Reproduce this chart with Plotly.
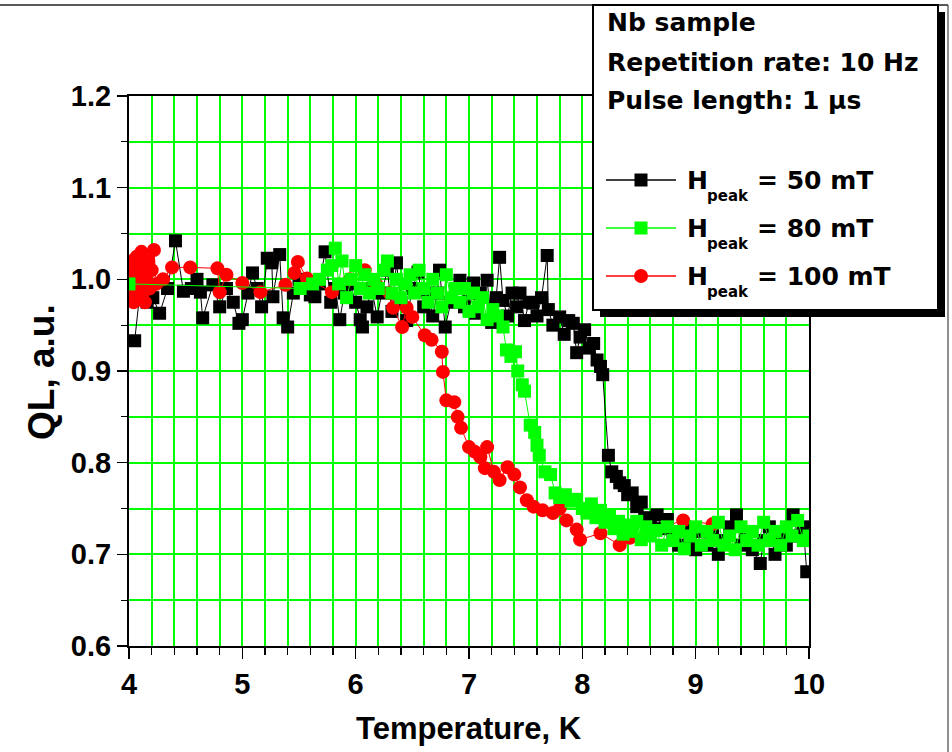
import plotly.graph_objects as go

# ---------------- data ----------------
t_50 = [4.05, 4.10, 4.16, 4.21, 4.27, 4.34, 4.41, 4.48, 4.55, 4.60, 4.63, 4.65, 4.74, 4.80, 4.86,
        4.92, 4.97, 5.00, 5.05, 5.09, 5.13, 5.17, 5.22, 5.26, 5.27, 5.33, 5.36, 5.40, 5.45, 5.50,
        5.55, 5.60, 5.64, 5.68, 5.73, 5.78, 5.82, 5.86, 5.90, 5.95, 6.00, 6.04, 6.06, 6.10, 6.14,
        6.19, 6.23, 6.28, 6.32, 6.36, 6.40, 6.45, 6.50, 6.55, 6.60, 6.64, 6.68, 6.72, 6.74, 6.79,
        6.84, 6.88, 6.92, 6.96, 7.00, 7.04, 7.06, 7.10, 7.16, 7.20, 7.24, 7.27, 7.30, 7.34, 7.38,
        7.42, 7.45, 7.49, 7.53, 7.56, 7.60, 7.64, 7.69, 7.70, 7.74, 7.80, 7.84, 7.88, 7.92, 7.95,
        7.98, 8.02, 8.06, 8.10, 8.13, 8.16, 8.18, 8.23, 8.26, 8.30, 8.33, 8.37, 8.40, 8.44, 8.48,
        8.52, 8.55, 8.60, 8.66, 8.70, 8.75, 8.80, 8.85, 8.90, 8.95, 9.00, 9.05, 9.10, 9.15, 9.20,
        9.25, 9.30, 9.36, 9.40, 9.45, 9.50, 9.57, 9.60, 9.65, 9.70, 9.75, 9.80, 9.86, 9.90, 9.95,
        9.98]
ql_50 = [0.933, 0.990, 0.975, 0.980, 0.963, 0.990, 1.042, 0.987, 0.990, 1.000, 0.986, 0.958, 0.994, 0.970, 0.990,
         0.975, 0.952, 0.956, 0.985, 1.007, 0.990, 0.970, 1.023, 1.018, 0.981, 1.027, 0.958, 0.948, 0.985, 1.000,
         0.995, 0.983, 0.981, 0.995, 1.030, 0.975, 0.990, 0.956, 0.985, 0.995, 0.975, 0.956, 0.948, 0.970, 0.990,
         0.959, 0.985, 1.010, 0.965, 1.018, 0.975, 0.955, 0.990, 1.008, 0.970, 0.985, 0.960, 0.985, 1.010, 0.948,
         0.975, 0.990, 0.999, 0.970, 0.985, 0.996, 0.963, 0.985, 0.999, 0.953, 0.980, 1.024, 0.977, 0.960, 0.985,
         0.970, 0.985, 0.955, 0.975, 0.974, 0.960, 0.980, 1.026, 0.967, 0.950, 0.959, 0.940, 0.955, 0.952, 0.920,
         0.937, 0.945, 0.925, 0.930, 0.912, 0.905, 0.896, 0.808, 0.790, 0.785, 0.778, 0.775, 0.765, 0.767, 0.752,
         0.757, 0.740, 0.735, 0.743, 0.728, 0.738, 0.720, 0.710, 0.730, 0.715, 0.705, 0.725, 0.710, 0.720, 0.700,
         0.715, 0.730, 0.743, 0.710, 0.720, 0.705, 0.690, 0.715, 0.730, 0.700, 0.720, 0.710, 0.743, 0.720, 0.730,
         0.681]

t_80 = [4.00, 5.51, 5.62, 5.68, 5.75, 5.79, 5.82, 5.85, 5.88, 5.92, 5.96, 6.00, 6.04, 6.08, 6.12,
        6.16, 6.20, 6.25, 6.28, 6.32, 6.36, 6.40, 6.44, 6.48, 6.52, 6.56, 6.60, 6.64, 6.68, 6.72,
        6.76, 6.80, 6.84, 6.88, 6.92, 6.96, 7.00, 7.04, 7.08, 7.12, 7.16, 7.21, 7.25, 7.30, 7.33,
        7.37, 7.41, 7.43, 7.47, 7.49, 7.54, 7.58, 7.60, 7.62, 7.67, 7.72, 7.76, 7.80, 7.85, 7.90,
        7.95, 8.00, 8.04, 8.08, 8.12, 8.16, 8.20, 8.24, 8.28, 8.32, 8.36, 8.40, 8.44, 8.48, 8.52,
        8.56, 8.60, 8.65, 8.70, 8.75, 8.80, 8.85, 8.90, 8.95, 9.00, 9.05, 9.10, 9.15, 9.20, 9.25,
        9.30, 9.35, 9.40, 9.45, 9.50, 9.55, 9.60, 9.65, 9.70, 9.75, 9.80, 9.85, 9.90, 9.95, 10.00]
ql_80 = [0.995, 0.990, 0.995, 1.000, 1.010, 1.015, 1.034, 0.995, 1.020, 0.980, 1.000, 1.015, 0.990, 1.005, 0.985,
         1.000, 0.990, 1.010, 1.020, 0.985, 1.000, 0.980, 0.995, 1.005, 0.985, 1.010, 0.990, 0.975, 1.000, 0.985,
         0.970, 1.005, 0.980, 0.990, 0.975, 0.990, 0.965, 0.985, 0.970, 0.980, 0.956, 0.967, 0.960, 0.948, 0.923,
         0.916, 0.921, 0.900, 0.885, 0.878, 0.841, 0.833, 0.819, 0.808, 0.790, 0.787, 0.767, 0.762, 0.765, 0.758,
         0.760, 0.750, 0.745, 0.755, 0.740, 0.748, 0.735, 0.742, 0.728, 0.736, 0.722, 0.732, 0.725, 0.736, 0.716,
         0.730, 0.720, 0.726, 0.710, 0.730, 0.715, 0.725, 0.706, 0.720, 0.730, 0.710, 0.725, 0.715, 0.735, 0.710,
         0.720, 0.705, 0.730, 0.715, 0.725, 0.710, 0.735, 0.715, 0.725, 0.710, 0.730, 0.720, 0.737, 0.715, 0.720]

t_100 = [4.01, 4.02, 4.03, 4.04, 4.05, 4.06, 4.07, 4.08, 4.09, 4.10, 4.11, 4.12, 4.13, 4.14, 4.15,
         4.17, 4.18, 4.20, 4.22, 4.24, 4.30, 4.38, 4.54, 4.78, 4.80, 4.86, 5.00, 5.16, 5.38, 5.46,
         5.49, 5.57, 5.79, 5.95, 6.08, 6.18, 6.30, 6.33, 6.41, 6.45, 6.50, 6.61, 6.67, 6.76, 6.77,
         6.80, 6.87, 6.90, 6.93, 7.00, 7.05, 7.10, 7.14, 7.16, 7.22, 7.27, 7.34, 7.40, 7.45, 7.51,
         7.57, 7.65, 7.74, 7.80, 7.86, 7.95, 7.98, 8.16, 8.33, 8.42, 8.89, 9.15]
ql_100 = [1.000, 0.985, 1.020, 0.975, 1.010, 0.995, 1.025, 0.980, 1.005, 0.990, 1.030, 0.985, 1.015, 0.975, 1.000,
          1.020, 0.990, 1.010, 1.032, 0.995, 1.000, 1.013, 1.013, 1.012, 0.986, 1.005, 0.996, 0.986, 0.994, 1.007,
          1.019, 1.001, 0.986, 1.000, 1.010, 0.995, 0.985, 0.969, 0.948, 0.969, 0.959, 0.939, 0.934, 0.921, 0.899,
          0.868, 0.866, 0.850, 0.838, 0.817, 0.812, 0.806, 0.794, 0.817, 0.790, 0.781, 0.795, 0.787, 0.773, 0.759,
          0.752, 0.748, 0.745, 0.750, 0.737, 0.727, 0.716, 0.723, 0.710, 0.718, 0.737, 0.733]

series_names = ["50 mT", "80 mT", "100 mT"]
x_ticks = [4, 5, 6, 7, 8, 9, 10]
y_ticks = [0.6, 0.7, 0.8, 0.9, 1.0, 1.1, 1.2]
info_lines = ["Nb sample", "Repetition rate: 10 Hz", "Pulse length: 1 \u03bcs"]

# ---------------- styling ----------------
BLACK, GREEN, RED = "#000000", "#00ff00", "#ff0000"
styles = [
    dict(color=BLACK, symbol="square", size=13),
    dict(color=GREEN, symbol="square", size=13),
    dict(color=RED, symbol="circle", size=14),
]
AX_FONT = "Liberation Sans, Arial, sans-serif"
LG_FONT = "DejaVu Sans, sans-serif"

# figure / plot-area geometry in pixels
FW, FH = 952, 752
L, R, T, B = 129, 809, 96, 646
PW, PH = R - L, B - T


def pxx(p):
    return (p - L) / PW


def pxy(p):
    return (B - p) / PH


fig = go.Figure()
order = [(t_50, ql_50, 0), (t_100, ql_100, 2), (t_80, ql_80, 1)]
for xs, ys, k in order:
    st = styles[k]
    fig.add_trace(go.Scatter(
        x=xs, y=ys, mode="lines+markers", name="H<sub>peak</sub> = " + series_names[k],
        line=dict(color=st["color"], width=1),
        marker=dict(symbol=st["symbol"], size=st["size"], color=st["color"], line=dict(width=0)),
        showlegend=False, cliponaxis=True, hoverinfo="skip",
    ))

grid = dict(showgrid=True, gridcolor=GREEN, gridwidth=2)
fig.update_layout(
    width=FW, height=FH,
    margin=dict(l=L, r=FW - R, t=T, b=FH - B, pad=0),
    paper_bgcolor="white", plot_bgcolor="white",
    showlegend=False,
    xaxis=dict(range=[4, 10], tickvals=x_ticks, ticktext=[str(v) for v in x_ticks],
               ticks="outside", ticklen=11, tickwidth=1.5, tickcolor=BLACK,
               showline=True, linecolor=BLACK, linewidth=2, mirror=True, zeroline=False,
               tickfont=dict(family=AX_FONT, size=29, color=BLACK, weight="bold"),
               minor=dict(dtick=0.2, tick0=4, ticks="outside", ticklen=7, tickwidth=1.2,
                          tickcolor=BLACK, **grid),
               **grid),
    yaxis=dict(range=[0.6, 1.2], tickvals=y_ticks, ticktext=["%.1f" % v for v in y_ticks],
               ticks="outside", ticklen=10, tickwidth=1.5, tickcolor=BLACK,
               showline=True, linecolor=BLACK, linewidth=2, mirror=True, zeroline=False,
               tickfont=dict(family=AX_FONT, size=29, color=BLACK, weight="bold"),
               minor=dict(dtick=0.05, tick0=0.6, ticks="outside", ticklen=6, tickwidth=1.2,
                          tickcolor=BLACK, **grid),
               **grid),
    xaxis2=dict(range=[4, 10], overlaying="x", side="top", anchor="y", showgrid=False,
                tickvals=x_ticks, ticks="inside", ticklen=9, tickwidth=1.5, tickcolor=BLACK,
                showticklabels=False, zeroline=False, showline=False,
                minor=dict(dtick=0.2, tick0=4, ticks="inside", ticklen=8, tickwidth=1.2,
                           tickcolor=BLACK, showgrid=False)),
    yaxis2=dict(range=[0.6, 1.2], overlaying="y", side="right", anchor="x", showgrid=False,
                tickvals=y_ticks, ticks="inside", ticklen=10, tickwidth=1.5, tickcolor=BLACK,
                showticklabels=False, zeroline=False, showline=False,
                minor=dict(dtick=0.05, tick0=0.6, ticks="inside", ticklen=5, tickwidth=1.2,
                           tickcolor=BLACK, showgrid=False)),
)

# axis titles
fig.add_annotation(text="<b>Temperature, K</b>", xref="paper", yref="paper", x=0.5, y=pxy(728),
                   xanchor="center", yanchor="middle", showarrow=False,
                   font=dict(family=AX_FONT, size=31, color=BLACK))
fig.add_annotation(text="<b>QL, a.u.</b>", xref="paper", yref="paper", x=pxx(41), y=pxy(372),
                   xanchor="center", yanchor="middle", textangle=-90, showarrow=False,
                   font=dict(family=AX_FONT, size=37, color=BLACK))

shapes = []
# page frame (top and right edges)
shapes.append(dict(type="line", xref="paper", yref="paper", x0=pxx(0), x1=pxx(948), y0=pxy(5), y1=pxy(5),
                   line=dict(color="#222222", width=1.5), layer="above"))
shapes.append(dict(type="line", xref="paper", yref="paper", x0=pxx(948), x1=pxx(948), y0=pxy(5), y1=pxy(752),
                   line=dict(color="#444444", width=1.2), layer="above"))
# legend box with drop shadow
shapes.append(dict(type="rect", xref="paper", yref="paper", x0=pxx(600), x1=pxx(945), y0=pxy(317), y1=pxy(12),
                   fillcolor=BLACK, line=dict(width=0), layer="above"))
shapes.append(dict(type="rect", xref="paper", yref="paper", x0=pxx(593), x1=pxx(938), y0=pxy(310), y1=pxy(5),
                   fillcolor="white", line=dict(color=BLACK, width=2), layer="above"))

# info text
info_y = [23, 62, 100]
for txt, yy in zip(info_lines, info_y):
    fig.add_annotation(text="<b>%s</b>" % txt, xref="paper", yref="paper", x=pxx(605), y=pxy(yy),
                       xanchor="left", yanchor="middle", showarrow=False,
                       font=dict(family=LG_FONT, size=25, color=BLACK))

# legend entries
row_y = [180, 228, 276]
for k, yy in enumerate(row_y):
    st = styles[k]
    shapes.append(dict(type="line", xref="paper", yref="paper", x0=pxx(606), x1=pxx(676),
                       y0=pxy(yy), y1=pxy(yy), line=dict(color=st["color"], width=1.5), layer="above"))
    half = st["size"] / 2.0
    shapes.append(dict(type="rect" if st["symbol"] == "square" else "circle",
                       xref="paper", yref="paper", xsizemode="pixel", ysizemode="pixel",
                       xanchor=pxx(641), yanchor=pxy(yy), x0=-half, x1=half, y0=-half, y1=half,
                       fillcolor=st["color"], line=dict(width=0), layer="above"))
    fig.add_annotation(text="<b>H</b>", xref="paper", yref="paper", x=pxx(685), y=pxy(yy),
                       xanchor="left", yanchor="middle", showarrow=False,
                       font=dict(family=LG_FONT, size=25, color=BLACK))
    fig.add_annotation(text="<b>peak</b>", xref="paper", yref="paper", x=pxx(705), y=pxy(yy + 16),
                       xanchor="left", yanchor="middle", showarrow=False,
                       font=dict(family=LG_FONT, size=15, color=BLACK))
    fig.add_annotation(text="<b>= %s</b>" % series_names[k], xref="paper", yref="paper", x=pxx(755),
                       y=pxy(yy), xanchor="left", yanchor="middle", showarrow=False,
                       font=dict(family=LG_FONT, size=25, color=BLACK))

fig.update_layout(shapes=shapes)
fig.write_html("out.html", config={"displayModeBar": False, "staticPlot": True},
               post_script="document.body.style.margin='0px';document.body.style.overflow='hidden';")
